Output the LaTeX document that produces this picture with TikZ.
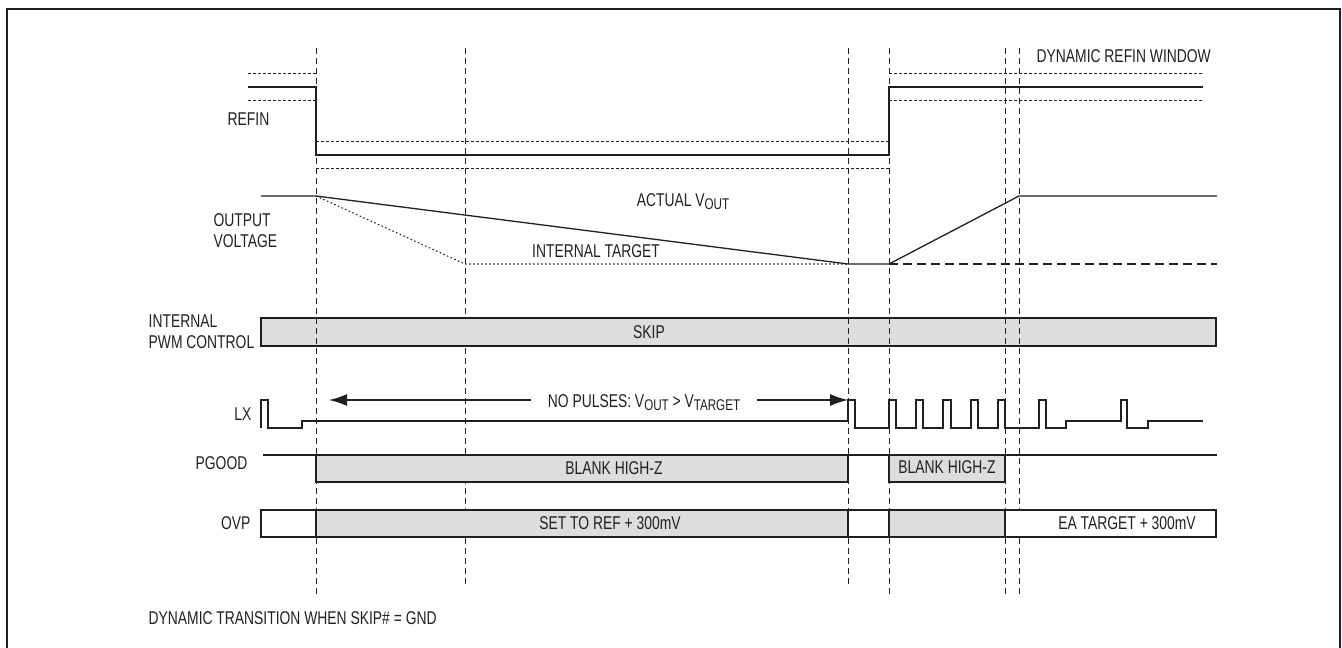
\documentclass[tikz,border=0pt]{standalone}
\usepackage{fontspec}
\setmainfont{Liberation Sans}[FakeStretch=0.75]
\usepackage{xcolor}
\usepackage{tikz}
\usetikzlibrary{arrows.meta}
\definecolor{ink}{HTML}{231F20}
\definecolor{fillgray}{HTML}{DCDDDF}
\newcommand{\lowsub}[1]{\raisebox{-3pt}{\fontsize{15.5}{15.5}\selectfont #1}}

\begin{document}
\begin{tikzpicture}[x=1pt, y=-1pt, >={Latex[length=18pt,width=12pt]}, line width=1.3pt, draw=ink,
  lbl/.style={inner sep=0pt, text=ink, font=\fontsize{18.5}{21}\selectfont},
  guide/.style={line width=1pt, dash pattern=on 6pt off 4pt},
  win/.style={line width=1pt, dash pattern=on 3pt off 2pt},
  tgt/.style={line width=1.1pt, dash pattern=on 1.5pt off 2.5pt},
  longdash/.style={line width=1.1pt, dash pattern=on 9pt off 5pt},
  bar/.style={draw=ink, fill=fillgray}]
  \useasboundingbox (0,0) rectangle (1342,648);
  \draw[line width=2.6pt] (7,648) -- (7,9) -- (1340,9) -- (1340,648);

  % signal names
  \node[lbl, anchor=east] (refin) at (270,119) {REFIN};
  \node[lbl, anchor=west, align=left] (outv) at (213,231) {OUTPUT\\VOLTAGE};
  \node[lbl, anchor=west, align=left] (pwm) at (148,332) {INTERNAL\\PWM CONTROL};
  \node[lbl, anchor=east] (lx) at (252,414) {LX};
  \node[lbl, anchor=east] (pgood) at (248,463) {PGOOD};
  \node[lbl, anchor=east] (ovp) at (251,523) {OVP};
  \node[lbl, anchor=west] (window) at (1036,56) {DYNAMIC REFIN WINDOW};
  \node[lbl, anchor=west] (note) at (148,618) {DYNAMIC TRANSITION WHEN SKIP\# = GND};

  % time markers
  \draw[guide] (465,48) -- (465,587);
  \draw[bar] (261,318) rectangle (1216,346);
  \node[lbl] (skip) at (649,332) {SKIP};
  \draw[guide] (316,48) -- (316,595);
  \draw[guide] (848,48) -- (848,587);
  \draw[guide] (889,48) -- (889,595);
  \draw[guide] (1005,48) -- (1005,595);
  \draw[guide] (1019,48) -- (1019,595);

  % REFIN
  \draw (248,87) -- (316,87) -- (316,155) -- (889,155) -- (889,87) -- (1203,87);
  \draw[win] (248,73) -- (316,73) (248,100) -- (316,100);
  \draw[win] (316,141) -- (889,141) (316,168) -- (889,168);
  \draw[win] (889,73) -- (1203,73) (889,100) -- (1203,100);

  % output voltage
  \draw[tgt] (316,196) -- (465,264) -- (848,264);
  \draw[longdash] (889,264) -- (1217,264);
  \draw (261,196) -- (316,196) -- (848,264) -- (889,264) -- (1019,196) -- (1217,196);
  \node[lbl, anchor=base] (actual) at (683,206) {ACTUAL V\lowsub{OUT}};
  \node[lbl] (target) at (596,251) {INTERNAL TARGET};

  % LX
  \draw (261,428) -- (261,400) -- (268,400) -- (268,428) -- (302,428) -- (302,421) -- (848,421)
    -- (848,400) -- (855,400) -- (855,428) -- (889,428) -- (889,400) -- (896,400) -- (896,428)
    -- (916,428) -- (916,400) -- (923,400) -- (923,428) -- (943,428) -- (943,400) -- (951,400)
    -- (951,428) -- (971,428) -- (971,400) -- (978,400) -- (978,428) -- (998,428) -- (998,400)
    -- (1005,400) -- (1005,428) -- (1039,428) -- (1039,400) -- (1046,400) -- (1046,428)
    -- (1066,428) -- (1066,421) -- (1121,421) -- (1121,400) -- (1127,400) -- (1127,428)
    -- (1148,428) -- (1148,421) -- (1203,421);
  \node[lbl, anchor=base, inner xsep=16pt] (nopulse) at (644,407) {NO PULSES: V\lowsub{OUT} > V\lowsub{TARGET}};
  \coordinate (arrl) at (329,400);
  \coordinate (arrr) at (848,400);
  \draw[->] (nopulse.west |- arrl) -- (arrl);
  \draw[->] (nopulse.east |- arrr) -- (arrr);

  % PGOOD
  \draw (263,455) -- (1217,455);
  \draw[bar] (316,455) rectangle (848,482);
  \draw[bar] (889,455) rectangle (1005,482);
  \node[lbl] (blank1) at (614,468) {BLANK HIGH-Z};
  \node[lbl] (blank2) at (947,467) {BLANK HIGH-Z};

  % OVP
  \draw[fill=white] (261,510) rectangle (1216,537);
  \draw[bar] (316,510) rectangle (848,537);
  \draw[bar] (889,510) rectangle (1005,537);
  \node[lbl] (setref) at (610,523) {SET TO REF + 300mV};
  \node[lbl] (eatgt) at (1127,523) {EA TARGET + 300mV};
\end{tikzpicture}
\end{document}
